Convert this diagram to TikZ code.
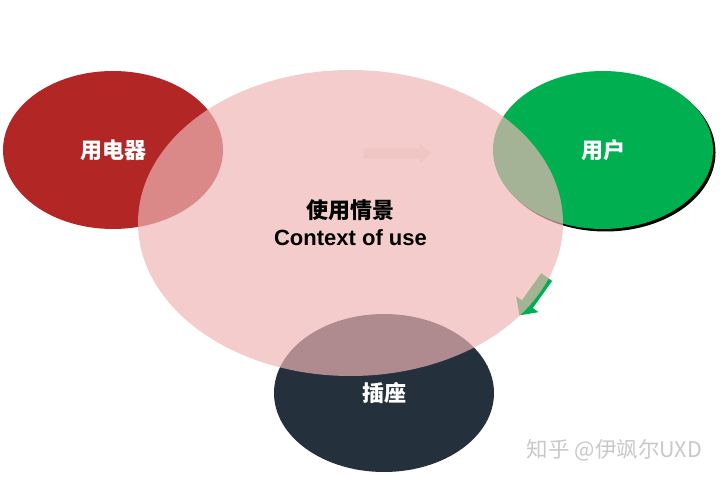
\documentclass[tikz,border=0pt]{standalone}
\usepackage{fontspec}
\usepackage{tikz}
\usetikzlibrary{shapes.geometric,shapes.arrows,shadows}
\setmainfont{Liberation Sans}
\newfontfamily\cjk{Noto Sans CJK SC}
\definecolor{redblob}{RGB}{178,38,38}
\definecolor{greenblob}{RGB}{0,176,80}
\definecolor{darkblob}{RGB}{36,48,60}
\definecolor{pinkblob}{RGB}{239,181,181}
\definecolor{fadearrow}{RGB}{240,197,195}
\definecolor{markgray}{RGB}{200,200,200}

\begin{document}
\begin{tikzpicture}[x=1pt,y=-1pt,node distance=490pt]
  \tikzstyle{every node}=[align=center,inner sep=0pt]
  \tikzstyle{blob}=[ellipse,minimum width=220pt,minimum height=158pt,text=white,font={\fontsize{22}{26}\selectfont\cjk\bfseries}]
  \tikzstyle{arrowhead}=[single arrow,single arrow head indent=0pt,inner xsep=0pt,inner ysep=6.5pt,single arrow head extend=7pt,minimum height=47pt]
  \useasboundingbox (0,0) rectangle (720,478);

  \node[blob,fill=redblob] (D) at (113,150) {用电器};
  \node[blob,fill=greenblob,drop shadow={shadow xshift=2.5pt,shadow yshift=-2.5pt,fill=black,opacity=1}] (U) [right of=D] {用户};
  \node[blob,fill=darkblob] (S) at (384,393) {插座};
  \node[arrowhead,fill=greenblob,rotate=234.6] (G) at (535,293.5) {};
  \node[ellipse,minimum width=425pt,minimum height=306pt,fill=pinkblob,fill opacity=.685,text opacity=1,
        font={\fontsize{22}{27}\selectfont\bfseries}] (C) at (350.5,223) {{\cjk 使用情景}\\Context of use};
  \node[arrowhead,fill=fadearrow,inner ysep=5pt,single arrow head extend=4.5pt,single arrow tip angle=80,minimum height=68pt] (F) at (394.5,153.5) {};
  \node[text=markgray,font={\fontsize{21.5}{25}\selectfont\cjk}] (W) at (614.5,450) {知乎 @伊飒尔UXD};
\end{tikzpicture}
\end{document}
